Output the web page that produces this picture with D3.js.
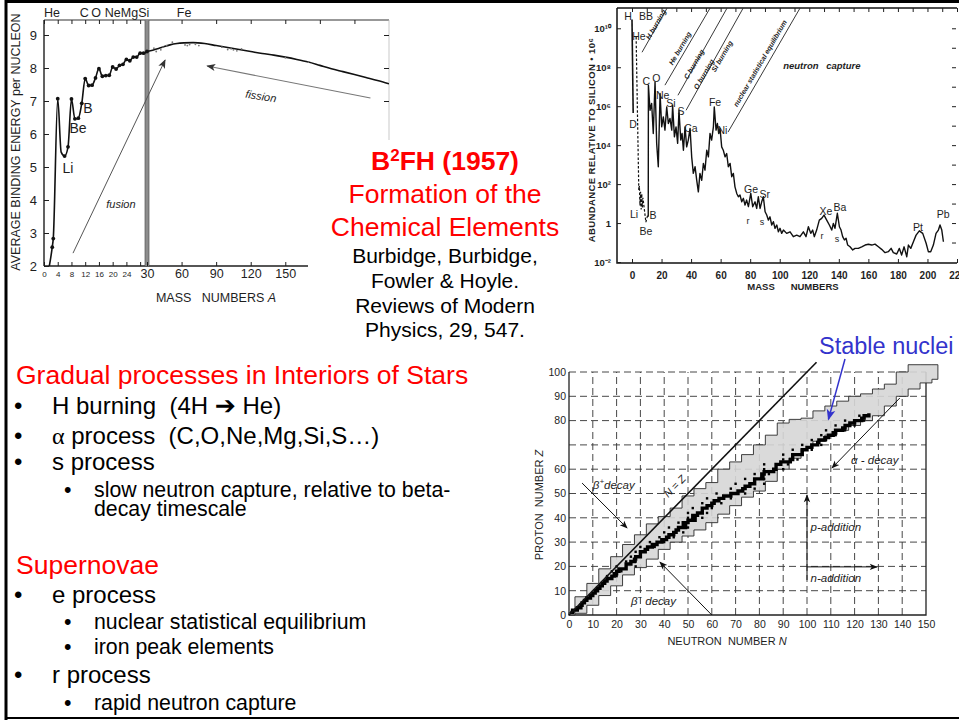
<!DOCTYPE html>
<html>
<head>
<meta charset="utf-8">
<title>B2FH (1957) – Formation of the Chemical Elements</title>
<script src="https://cdn.jsdelivr.net/npm/d3@7/dist/d3.min.js"></script>
<style>
  html, body { margin: 0; padding: 0; background: #fff; }
  svg { display: block; }
</style>
</head>
<body>
<svg id="slide" width="959" height="721"></svg>
<script>
// ---------------- Binding energy per nucleon (MeV) ----------------
const beMassLight  = [1.0, 2.4, 2.7, 4, 5, 6, 7, 8, 9, 10, 11, 12, 13, 14, 15, 16, 17, 18, 19, 20, 21, 22, 23, 24, 25, 26, 27, 28, 29, 30];
const beValueLight = [1.7, 2.57, 2.83, 7.07, 5.45, 5.33, 5.61, 7.06, 6.46, 6.48, 6.93, 7.68, 7.47, 7.48, 7.70, 7.98, 7.75, 7.77, 7.78, 8.03, 7.97, 8.08, 8.11, 8.26, 8.22, 8.33, 8.33, 8.45, 8.45, 8.50];
const beMassHeavy  = [30, 35, 40, 45, 50, 56, 62, 70, 80, 90, 100, 110, 120, 130, 140, 150, 160, 170, 180, 190, 200, 210, 220, 230, 240];
const beValueHeavy = [8.50, 8.54, 8.59, 8.65, 8.70, 8.74, 8.76, 8.77, 8.74, 8.68, 8.62, 8.56, 8.50, 8.44, 8.39, 8.33, 8.26, 8.18, 8.08, 7.98, 7.89, 7.80, 7.71, 7.62, 7.52];
const beScatterMass  = [36, 38, 42, 44, 47, 52, 63, 65, 67, 72, 75, 95, 100, 103, 105, 108, 112, 150, 170];
const beScatterValue = [8.60, 8.50, 8.55, 8.63, 8.68, 8.78, 8.70, 8.68, 8.71, 8.72, 8.68, 8.63, 8.56, 8.58, 8.55, 8.52, 8.58, 8.31, 8.18];
const beYTicks = [2, 3, 4, 5, 6, 7, 8, 9];
const beXTicksLight = [0, 4, 8, 12, 16, 20, 24, 28];
const beXTicksHeavy = [30, 60, 90, 120, 150];
const beCurveLabels = [["Li", 7.0, 4.97], ["Be", 9.9, 6.18], ["B", 12.8, 6.79]];
const beTopLabels = [["He", 2.3], ["C", 11.7], ["O", 15.2], ["NeMgSi", 24.2], ["Fe", 62.2]];

// ---------------- Solar-system abundances (log10, Si = 10^6) ----------------
const abHydrogenMass = [0, 0.8];
const abHydrogenLog  = [10.45, 5.65];
const abLightMass = [2.8, 4.6, 5.0, 5.4, 5.8, 6.2, 6.6, 7.0, 7.4, 9.4, 10.6];
const abLightLog  = [9.55, 1.7, 1.9, 0.9, 1.6, 0.7, 1.5, 0.8, 1.3, 0.05, 0.4];
const abMass = [11.0,11.1,12.2,13.3,14.4,15.6,16.7,17.8,19.0,20.1,21.2,22.3,23.5,24.6,25.7,26.9,27.5,28.7,29.8,30.9,
  31.8,33.0,33.9,34.8,35.9,37.0,38.1,39.3,40.4,41.5,42.7,43.8,44.9,46.0,47.2,48.3,49.4,50.6,51.7,52.8,
  53.9,55.1,55.7,56.9,57.8,58.7,59.6,60.7,61.8,63.0,64.1,65.2,66.4,67.5,68.6,69.7,70.9,72.0,73.1,74.3,
  75.4,76.5,77.6,78.8,80.4,81.7,83.3,84.4,85.5,86.7,87.8,88.9,90.1,91.2,92.3,93.4,94.6,95.7,96.8,98.0,
  99.1,100.2,101.3,102.5,104.7,107.0,109.2,111.5,113.7,116.0,117.8,119.4,121.0,122.3,123.4,125.0,126.8,128.4,130.0,131.8,
  133.6,135.2,136.3,137.4,139.0,140.4,141.5,142.6,143.8,144.9,146.0,147.6,149.4,151.0,153.2,155.5,157.8,160.0,162.3,164.5,
  166.8,169.0,171.3,173.5,175.4,176.9,179.2,181.0,182.5,184.2,186.0,187.1,188.7,190.5,192.3,194.5,196.8,199.1,200.6,202.2,
  204.0,205.8,207.4,208.5,209.7,210.8];
const abLog10 = [0.32,7.08,5.79,6.14,4.60,7.25,4.09,2.89,6.65,4.94,5.45,4.77,5.96,5.11,5.37,4.77,6.05,4.43,4.94,4.09,
  5.79,4.26,4.60,3.74,4.94,3.91,4.26,4.86,3.40,2.55,2.89,2.20,1.60,2.55,2.20,3.06,2.72,3.74,3.40,4.60,
  4.26,4.94,5.96,4.77,5.11,4.60,4.86,3.91,3.74,3.40,3.57,2.89,3.06,2.38,2.55,1.86,1.52,1.35,1.44,1.09,
  1.27,0.92,1.18,0.84,1.52,0.84,1.09,0.75,1.35,0.75,1.09,1.35,0.58,0.41,0.15,0.32,-0.10,0.07,-0.27,-0.10,
  -0.45,-0.27,-0.53,-0.36,-0.53,-0.45,-0.70,-0.62,-0.70,-0.45,-0.70,-0.19,-0.53,-0.36,-0.70,-0.36,0.15,0.24,0.41,0.15,
  -0.10,-0.36,-0.02,-0.27,0.50,-0.19,-0.36,-0.70,-0.87,-0.78,-1.13,-1.22,-1.38,-1.30,-1.30,-1.22,-1.13,-1.09,-1.13,-1.08,
  -1.22,-1.35,-1.52,-1.47,-1.30,-1.52,-1.59,-1.30,-1.64,-1.22,-1.73,-1.13,-1.30,-0.96,-0.62,-0.40,-0.53,-1.04,-1.47,-1.47,
  -1.13,-0.53,-0.36,-0.10,-0.36,-0.96];
const abYTickExps = [-2, 0, 2, 4, 6, 8, 10];
const abXTicks = [0, 20, 40, 60, 80, 100, 120, 140, 160, 180, 200, 220];
const abElementLabels = [["H",-2.7,10.6],["BB",9.5,10.6],["He",4.7,9.6],["D",0.7,5.08],["Li",1.4,0.46],["B",14.2,0.41],
  ["Be",9.5,-0.41],["C",9.6,7.3],["O",16.4,7.45],["Ne",20.8,6.55],["Si",26.4,6.15],["S",33.2,5.74],["Ca",39.9,4.87],
  ["Fe",56.2,6.2],["Ni",61.2,4.77],["Ge",80.6,1.75],["r",78.5,0.1],["s",88,0.05],["Sr",89.8,1.5],["Xe",131.3,0.62],
  ["r",128.6,-0.67],["s",138.8,-0.82],["Ba",140.8,0.8],["Pt",193.6,-0.2],["Pb",210.6,0.45]];
// burning-stage boundaries: [A0, log0, A1, log1]
const abStageLines = [[6.8,8.77,23.7,11.03],[22.3,7.08,52.8,11.03],[31.1,6.56,64.3,11.03],[36.6,5.79,75.2,11.03],[65,4.67,113.7,11.03]];
const abStageLabels = [["H burning",16.2,10.2],["He burning",32.5,8.97],["C burning",42,8.15],["O burning",48.7,7.64],
  ["Si burning",60.9,8.56],["nuclear statistical equilibrium",86.7,8.2]];

// ---------------- Chart of nuclides ----------------
const bandN     = [0,5,10,15,20,25,30,35,40,45,50,55,60,65,70,75,80,85,90,95,100,105,110,115,120,125,130,135,140,145,150,155];
const bandZHigh = [1,7.5,13,19,24,29,33,37.5,40.5,44,49,52,54.5,60,63,66,70,74,79,80.5,81,84,86,88,90,91,93,95,100,103,103,103];
const bandZLow  = [0,0.7,4,8,12,16.5,19.5,23,27,30,32.5,35,38,41.5,45,48.5,51,55,60,64.5,68.5,71.5,74,76,78,80,82,86,90,93,95.5,97];
// stable isotopes, Z = 1..83: lightest and heaviest stable N
const stableNMin = [0,1,3,5,5,6,7,8,10,10,12,12,14,14,16,16,18,18,20,20,24,24,27,26,30,28,32,30,34,34,38,38,42,40,44,42,48,46,50,50,
  52,50,null,52,58,56,60,58,64,62,70,68,74,70,78,74,81,78,82,82,null,82,88,90,94,90,98,94,100,98,104,102,107,106,110,108,114,112,118,116,122,122,126];
const stableNMax = [1,2,4,5,6,7,8,10,10,12,12,14,14,16,16,20,20,22,22,28,24,28,28,30,30,32,32,36,36,40,40,44,42,48,46,50,50,50,50,56,
  52,58,null,60,58,64,62,68,66,74,72,78,74,82,78,82,82,84,82,90,null,92,90,96,94,98,98,102,100,106,105,108,108,112,112,116,116,120,118,124,124,126,126];
const nzXTicks = [0,10,20,30,40,50,60,70,80,90,100,110,120,130,140,150];
const nzYTicks = [0,10,20,30,40,50,60,80,90,100];
const nzGrid = [10,20,30,40,50,60,70,80,90,100,110,120,130,140];

// ---------------- helpers ----------------
const SANS = '"Liberation Sans", Arial, Helvetica, sans-serif';
const SERIF = '"Liberation Serif", "Times New Roman", serif';
const INK = "#1e1e1e";
const svg = d3.select("#slide");
const defs = svg.append("defs");

function marker(id, color, w, h) {
  defs.append("marker").attr("id", id)
    .attr("viewBox", "0 0 10 10").attr("refX", 9).attr("refY", 5)
    .attr("markerUnits", "userSpaceOnUse")
    .attr("markerWidth", w).attr("markerHeight", h)
    .attr("orient", "auto")
    .append("path").attr("d", "M0,1 L10,5 L0,9 L2.5,5 Z").attr("fill", color);
}
marker("arrGray", "#333", 10, 9);
marker("arrBlack", "#111", 9, 8);
marker("arrBlue", "#3333cc", 12, 11);

function styleAxis(g, size, weight) {
  g.attr("font-family", SANS).attr("font-size", size).attr("font-weight", weight || "normal");
  g.selectAll("text").attr("fill", INK);
  g.selectAll("line").attr("stroke", INK);
  g.select(".domain").remove();
}

// ================= Panel 1: binding energy =================
const be = svg.append("g");
const beX = d3.scaleLinear().domain([0, 30, 240]).range([44, 147, 389]);
const beY = d3.scaleLinear().domain([2, 9]).range([266, 35]);
const beTop = 20;

defs.append("clipPath").attr("id", "beClip").append("rect")
  .attr("x", beX(0)).attr("y", beTop).attr("width", beX(240) - beX(0)).attr("height", beY(2) - beTop);

be.append("line").attr("x1", beX(0)).attr("x2", beX(240)).attr("y1", beTop).attr("y2", beTop)
  .attr("stroke", "#333").attr("stroke-width", 1.1);
be.append("line").attr("x1", beX(0)).attr("x2", beX(0)).attr("y1", beTop).attr("y2", beY(2))
  .attr("stroke", INK).attr("stroke-width", 1.4);
be.append("line").attr("x1", beX(0)).attr("x2", 308).attr("y1", beY(2)).attr("y2", beY(2))
  .attr("stroke", INK).attr("stroke-width", 1.4);
be.append("line").attr("x1", beX(240)).attr("x2", beX(240)).attr("y1", beTop).attr("y2", 140)
  .attr("stroke", "#bbb").attr("stroke-width", 0.8);

// A = 30 scale break
be.append("rect").attr("x", beX(30) - 2).attr("y", beTop).attr("width", 4).attr("height", beY(2) - beTop)
  .attr("fill", "#8c8c8c");
[-2, 2].forEach(o => be.append("line").attr("x1", beX(30) + o).attr("x2", beX(30) + o)
  .attr("y1", beTop).attr("y2", beY(2)).attr("stroke", "#555").attr("stroke-width", 0.7));

const beYAxis = be.append("g").attr("transform", `translate(${beX(0)},0)`)
  .call(d3.axisLeft(beY).tickValues(beYTicks).tickSize(-5).tickPadding(7).tickFormat(d3.format("d")));
styleAxis(beYAxis, 13);
const beXAxisLight = be.append("g").attr("transform", `translate(0,${beY(2)})`)
  .call(d3.axisBottom(beX).tickValues(beXTicksLight).tickSize(-4).tickPadding(5).tickFormat(d => d === 28 ? "" : d));
styleAxis(beXAxisLight, 8);
const beXAxisHeavy = be.append("g").attr("transform", `translate(0,${beY(2)})`)
  .call(d3.axisBottom(beX).tickValues(beXTicksHeavy).tickSize(-4).tickPadding(3));
styleAxis(beXAxisHeavy, 12.5);
const beTopAxis = be.append("g").attr("transform", `translate(0,${beTop})`)
  .call(d3.axisTop(beX).tickValues(beXTicksLight.concat([60, 90, 120, 150, 180, 210])).tickSize(-4).tickFormat(""));
styleAxis(beTopAxis, 8);
const beRightAxis = be.append("g").attr("transform", `translate(${beX(240)},0)`)
  .call(d3.axisRight(beY).tickValues([7, 8, 9]).tickSize(-5).tickFormat(""));
styleAxis(beRightAxis, 8);

const bePlot = be.append("g").attr("clip-path", "url(#beClip)");
const beLine = d3.line().x(d => beX(d[0])).y(d => beY(d[1])).curve(d3.curveMonotoneX);
const beLight = beMassLight.map((a, i) => [a, beValueLight[i]]);
const beHeavy = beMassHeavy.map((a, i) => [a, beValueHeavy[i]]);
bePlot.append("path").attr("d", beLine(beLight)).attr("fill", "none").attr("stroke", "#111").attr("stroke-width", 1.6);
bePlot.append("path").attr("d", beLine(beHeavy)).attr("fill", "none").attr("stroke", "#111").attr("stroke-width", 1.6);
bePlot.selectAll("circle.pt").data(beLight.filter((d, i) => i !== 0 && i !== 4)).join("circle")
  .attr("cx", d => beX(d[0])).attr("cy", d => beY(d[1])).attr("r", 1.9).attr("fill", "#111");
bePlot.selectAll("circle.sc").data(beScatterMass.map((a, i) => [a, beScatterValue[i]])).join("circle")
  .attr("cx", d => beX(d[0])).attr("cy", d => beY(d[1])).attr("r", 0.9).attr("fill", "#777");

be.selectAll("text.cl").data(beCurveLabels).join("text")
  .attr("x", d => beX(d[1])).attr("y", d => beY(d[2]) + 5).attr("text-anchor", "middle")
  .attr("font-family", SANS).attr("font-size", 14).attr("fill", INK).text(d => d[0]);
be.selectAll("text.tl").data(beTopLabels).join("text")
  .attr("x", d => beX(d[1])).attr("y", 17).attr("text-anchor", "middle")
  .attr("font-family", SANS).attr("font-size", 12.5).attr("fill", INK).text(d => d[0]);

be.append("text").attr("transform", "translate(20,142) rotate(-90)").attr("text-anchor", "middle")
  .attr("font-family", SANS).attr("font-size", 12.5).attr("fill", INK)
  .text("AVERAGE  BINDING ENERGY per NUCLEON");
const beXLabel = be.append("text").attr("x", 216).attr("y", 302).attr("text-anchor", "middle")
  .attr("font-family", SANS).attr("font-size", 12.5).attr("fill", INK).style("white-space", "pre");
beXLabel.append("tspan").text("MASS   NUMBERS ");
beXLabel.append("tspan").attr("font-style", "italic").text("A");

// fusion / fission arrows
be.append("line").attr("x1", beX(8.45)).attr("y1", beY(2.39)).attr("x2", beX(45.7)).attr("y2", beY(8.24))
  .attr("stroke", "#555").attr("stroke-width", 1).attr("marker-end", "url(#arrGray)");
be.append("line").attr("x1", beX(223.9)).attr("y1", beY(7.09)).attr("x2", beX(82.2)).attr("y2", beY(8.06))
  .attr("stroke", "#777").attr("stroke-width", 1.1).attr("marker-end", "url(#arrGray)");
be.append("text").attr("x", beX(22.4)).attr("y", beY(3.76)).attr("text-anchor", "middle")
  .attr("font-family", SANS).attr("font-size", 11).attr("font-style", "italic").attr("fill", INK).text("fusion");
be.append("text").attr("transform", `translate(${beX(128.3)},${beY(7.03)}) rotate(9)`).attr("text-anchor", "middle")
  .attr("font-family", SANS).attr("font-size", 11).attr("font-style", "italic").attr("fill", INK).text("fission");

// title block sits on a white box over the lower right of the figure
svg.append("rect").attr("x", 308).attr("y", 140).attr("width", 252).attr("height", 210).attr("fill", "#fff");

// ================= Panel 2: abundances =================
const ab = svg.append("g");
const abX = d3.scaleLinear().domain([0, 220]).range([632, 957]);
const abY = d3.scaleLog().domain([1e-2, 1.1e11]).range([262, 8]);
const abLeft = 617, abRight = 957, abTopY = 8, abBottomY = 263;

ab.append("path").attr("d", `M${abLeft},${abTopY} L${abLeft},${abBottomY} L${abRight},${abBottomY}`)
  .attr("fill", "none").attr("stroke", "#111").attr("stroke-width", 1.5);
ab.append("line").attr("x1", abLeft).attr("x2", abRight).attr("y1", abTopY).attr("y2", abTopY)
  .attr("stroke", "#111").attr("stroke-width", 1.3);

const supMap = { "0": "⁰", "1": "¹", "2": "²", "3": "³", "4": "⁴", "5": "⁵", "6": "⁶", "7": "⁷", "8": "⁸", "9": "⁹", "-": "⁻" };
const powLabel = e => e === 0 ? "1" : "10" + String(e).split("").map(c => supMap[c]).join("");

const abYAxis = ab.append("g").attr("transform", `translate(${abLeft},0)`)
  .call(d3.axisLeft(abY).tickValues(abYTickExps.map(e => Math.pow(10, e))).tickSize(-4).tickPadding(6)
    .tickFormat(v => powLabel(Math.round(Math.log10(v)))));
styleAxis(abYAxis, 9.5, "bold");
const abXAxis = ab.append("g").attr("transform", `translate(0,${abBottomY})`)
  .call(d3.axisBottom(abX).tickValues(abXTicks).tickSize(-4).tickPadding(9));
styleAxis(abXAxis, 10, "bold");
const abTopAxis = ab.append("g").attr("transform", `translate(0,${abTopY})`)
  .call(d3.axisTop(abX).tickValues(d3.range(0, 221, 10)).tickSize(-4).tickFormat(""));
styleAxis(abTopAxis, 8);
const abRightAxis = ab.append("g").attr("transform", `translate(${abRight - 1},0)`)
  .call(d3.axisRight(abY).tickValues(d3.range(-1, 11).map(e => Math.pow(10, e))).tickSize(-4).tickFormat(""));
styleAxis(abRightAxis, 8);

ab.append("text").attr("transform", "translate(595,140) rotate(-90)").attr("text-anchor", "middle")
  .attr("font-family", SANS).attr("font-size", 9.5).attr("font-weight", "bold").attr("letter-spacing", 0.4)
  .attr("fill", INK).text("ABUNDANCE  RELATIVE  TO  SILICON • 10⁶");
ab.append("text").attr("x", 793).attr("y", 290).attr("text-anchor", "middle").style("white-space", "pre")
  .attr("font-family", SANS).attr("font-size", 9.5).attr("font-weight", "bold").attr("fill", INK)
  .text("MASS      NUMBERS");

const abLine = d3.line().x(d => abX(d[0])).y(d => abY(Math.pow(10, d[1])));
ab.append("path").attr("d", abLine(abHydrogenMass.map((a, i) => [a, abHydrogenLog[i]])))
  .attr("fill", "none").attr("stroke", "#111").attr("stroke-width", 1.6);
ab.append("path").attr("d", abLine(abLightMass.map((a, i) => [a, abLightLog[i]])))
  .attr("fill", "none").attr("stroke", "#111").attr("stroke-width", 1.2).attr("stroke-dasharray", "2.5,1.8");
ab.append("path").attr("d", abLine(abMass.map((a, i) => [a, abLog10[i]])))
  .attr("fill", "none").attr("stroke", "#111").attr("stroke-width", 1.4).attr("stroke-linejoin", "round");

ab.selectAll("line.stage").data(abStageLines).join("line")
  .attr("x1", d => abX(d[0])).attr("y1", d => abY(Math.pow(10, d[1])))
  .attr("x2", d => abX(d[2])).attr("y2", d => abY(Math.pow(10, d[3])))
  .attr("stroke", "#222").attr("stroke-width", 0.9);
const stageAngle = (() => {
  const d = abStageLines[1];
  const dx = abX(d[2]) - abX(d[0]), dy = abY(Math.pow(10, d[3])) - abY(Math.pow(10, d[1]));
  return Math.atan2(dy, dx) * 180 / Math.PI;
})();
ab.selectAll("text.stage").data(abStageLabels).join("text")
  .attr("transform", d => `translate(${abX(d[1])},${abY(Math.pow(10, d[2]))}) rotate(${stageAngle})`)
  .attr("text-anchor", "middle").attr("dy", "0.35em")
  .attr("font-family", SANS).attr("font-size", 7).attr("font-weight", "bold").attr("font-style", "italic")
  .attr("fill", INK).text(d => d[0]);
ab.append("text").attr("x", abX(128.5)).attr("y", abY(Math.pow(10, 7.9))).attr("text-anchor", "middle")
  .attr("font-family", SANS).attr("font-size", 9.5).attr("font-weight", "bold").attr("font-style", "italic")
  .attr("fill", INK).attr("word-spacing", 5).text("neutron capture");

ab.selectAll("text.el").data(abElementLabels).join("text")
  .attr("x", d => abX(d[1])).attr("y", d => abY(Math.pow(10, d[2]))).attr("dy", "0.36em")
  .attr("text-anchor", "middle").attr("font-family", SANS)
  .attr("font-size", d => (d[0] === "r" || d[0] === "s") ? 9 : 10.5)
  .attr("fill", INK).text(d => d[0]);

// ================= Panel 3: chart of nuclides =================
const nz = svg.append("g");
const nzX = d3.scaleLinear().domain([0, 150]).range([569, 926]);
const nzY = d3.scaleLinear().domain([0, 100]).range([615, 372]);

nz.selectAll("line.gv").data(nzGrid).join("line")
  .attr("x1", d => nzX(d)).attr("x2", d => nzX(d)).attr("y1", nzY(0)).attr("y2", nzY(100))
  .attr("stroke", "#333").attr("stroke-width", 0.9).attr("stroke-dasharray", "7,4");
nz.selectAll("line.gh").data(nzGrid.filter(d => d <= 100)).join("line")
  .attr("x1", nzX(0)).attr("x2", nzX(150)).attr("y1", d => nzY(d)).attr("y2", d => nzY(d))
  .attr("stroke", "#333").attr("stroke-width", 0.9).attr("stroke-dasharray", "7,4");
nz.append("path").attr("d", `M${nzX(0)},${nzY(100)} L${nzX(0)},${nzY(0)} L${nzX(150)},${nzY(0)} L${nzX(150)},${nzY(100)}`)
  .attr("fill", "none").attr("stroke", "#222").attr("stroke-width", 1.3);

const band = d3.area().x((d, i) => nzX(bandN[i])).y0((d, i) => nzY(bandZLow[i])).y1((d, i) => nzY(bandZHigh[i]))
  .curve(d3.curveStep);
nz.append("path").attr("d", band(bandN)).attr("fill", "#d6d6d6").attr("fill-opacity", 0.9)
  .attr("stroke", "#2a2a2a").attr("stroke-width", 0.9);

// valley of stability: staircase through the middle of each element's stable isotopes,
// with the lightest and heaviest stable isotopes marked as separate cells
const stableRows = [];
stableNMin.forEach((nmin, i) => {
  if (nmin === null) return;
  stableRows.push({ z: i + 1, nmin: nmin, nmax: stableNMax[i], mid: (nmin + stableNMax[i]) / 2 });
});
const cw = nzX(1) - nzX(0), ch = nzY(0) - nzY(1);
const valley = d3.line().x(d => nzX(d.mid)).y(d => nzY(d.z)).curve(d3.curveStepAfter);
nz.append("path").attr("d", valley(stableRows)).attr("fill", "none").attr("stroke", "#000")
  .attr("stroke-width", 3.4).attr("stroke-linejoin", "miter");
const edgeCells = [];
stableRows.forEach(r => {
  if (r.nmax - r.nmin >= 3) { edgeCells.push([r.nmin, r.z]); edgeCells.push([r.nmax, r.z]); }
});
nz.selectAll("rect.st").data(edgeCells).join("rect")
  .attr("x", d => nzX(d[0]) - cw / 2).attr("y", d => nzY(d[1]) - ch / 2)
  .attr("width", cw).attr("height", ch).attr("fill", "#000");

nz.append("line").attr("x1", nzX(0)).attr("y1", nzY(0)).attr("x2", nzX(104)).attr("y2", nzY(104))
  .attr("stroke", "#111").attr("stroke-width", 1.6);
const nzAngle = Math.atan2(nzY(1) - nzY(0), nzX(1) - nzX(0)) * 180 / Math.PI;
nz.append("text").attr("transform", `translate(${nzX(45.5)},${nzY(52)}) rotate(${nzAngle})`)
  .attr("text-anchor", "middle").attr("font-family", SANS).attr("font-size", 10.5).attr("font-style", "italic")
  .attr("fill", INK).text("N = Z");

const nzXAxis = nz.append("g").attr("transform", `translate(0,${nzY(0)})`)
  .call(d3.axisBottom(nzX).tickValues(nzXTicks).tickSize(0).tickPadding(6));
styleAxis(nzXAxis, 10.5);
const nzYAxis = nz.append("g").attr("transform", `translate(${nzX(0)},0)`)
  .call(d3.axisLeft(nzY).tickValues(nzYTicks).tickSize(0).tickPadding(3));
styleAxis(nzYAxis, 10.5);
const nzXLabel = nz.append("text").attr("x", 727).attr("y", 645).attr("text-anchor", "middle")
  .attr("font-family", SANS).attr("font-size", 11).attr("fill", INK).style("white-space", "pre");
nzXLabel.append("tspan").text("NEUTRON  NUMBER ");
nzXLabel.append("tspan").attr("font-style", "italic").text("N");
const nzYLabel = nz.append("text").attr("transform", "translate(543,505) rotate(-90)").attr("text-anchor", "middle")
  .attr("font-family", SANS).attr("font-size", 11).attr("fill", INK).style("white-space", "pre");
nzYLabel.append("tspan").text("PROTON  NUMBER ");
nzYLabel.append("tspan").attr("font-style", "italic").text("Z");

// process arrows: [N0, Z0, N1, Z1]
const nzArrows = [[5.5, 54.3, 24.4, 35.8], [60, 0, 38.2, 21.8], [139, 89.3, 110.5, 60.5], [100, 19.8, 100, 49.4], [100, 19.8, 129.4, 19.8]];
nz.selectAll("line.ar").data(nzArrows).join("line")
  .attr("x1", d => nzX(d[0])).attr("y1", d => nzY(d[1])).attr("x2", d => nzX(d[2])).attr("y2", d => nzY(d[3]))
  .attr("stroke", "#111").attr("stroke-width", 1).attr("marker-end", "url(#arrBlack)");
nz.append("line").attr("x1", nzX(100)).attr("x2", nzX(100)).attr("y1", nzY(19.8)).attr("y2", nzY(14.4))
  .attr("stroke", "#111").attr("stroke-width", 1);

// parts: [text, superscript?]
function italicLabel(x, y, parts) {
  const t = nz.append("text").attr("x", x).attr("y", y)
    .attr("font-family", SANS).attr("font-size", 11.5).attr("font-style", "italic").attr("fill", INK)
    .style("white-space", "pre");
  let raised = false;
  parts.forEach(([s, sup]) => {
    const sp = t.append("tspan").text(s);
    if (sup && !raised) { sp.attr("font-size", 8).attr("dy", -5); raised = true; }
    else if (!sup && raised) { sp.attr("dy", 5); raised = false; }
  });
  return t;
}
italicLabel(nzX(10), nzY(52), [["β", false], ["+", true], ["decay", false]]);
italicLabel(nzX(26), nzY(4), [["β", false], ["−", true], [" decay", false]]);
italicLabel(nzX(118.5), nzY(62), [["α - decay", false]]);
italicLabel(nzX(101.5), nzY(34.5), [["p-addition", false]]);
italicLabel(nzX(101.5), nzY(13.5), [["n-addition", false]]);

// ================= Slide text =================
const txt = svg.append("g").attr("font-family", SANS);
txt.append("text").attr("x", 819).attr("y", 354).attr("font-size", 23.5).attr("fill", "#3333cc").text("Stable nuclei");
txt.append("line").attr("x1", 845).attr("y1", 359).attr("x2", nzX(109)).attr("y2", nzY(80.5))
  .attr("stroke", "#3333cc").attr("stroke-width", 1.5).attr("marker-end", "url(#arrBlue)");

const title = txt.append("text").attr("x", 445).attr("y", 170).attr("text-anchor", "middle")
  .attr("font-size", 26.5).attr("font-weight", "bold").attr("fill", "#ff0000");
title.append("tspan").text("B");
title.append("tspan").attr("font-size", 17).attr("dy", -9).text("2");
title.append("tspan").attr("dy", 9).text("FH (1957)");
[["Formation of the", 203], ["Chemical Elements", 236]].forEach(d =>
  txt.append("text").attr("x", 445).attr("y", d[1]).attr("text-anchor", "middle")
    .attr("font-size", 26.5).attr("fill", "#ff0000").text(d[0]));
[["Burbidge, Burbidge,", 263], ["Fowler & Hoyle.", 288], ["Reviews of Modern", 313], ["Physics, 29, 547.", 337]].forEach(d =>
  txt.append("text").attr("x", 445).attr("y", d[1]).attr("text-anchor", "middle")
    .attr("font-size", 21).attr("fill", "#000").text(d[0]));

// bullet list: [level, text, baseline]
const bulletLines = [
  [0, "Gradual processes in Interiors of Stars", 384],
  [1, "H burning  (4H ➔ He)", 414],
  [1, "α process  (C,O,Ne,Mg,Si,S…)", 444],
  [1, "s process", 470],
  [2, "slow neutron capture, relative to beta-", 497],
  [3, "decay timescale", 516],
  [0, "Supernovae", 574],
  [1, "e process", 603],
  [2, "nuclear statistical equilibrium", 629],
  [2, "iron peak elements", 654],
  [1, "r process", 683],
  [2, "rapid neutron capture", 710]
];
bulletLines.forEach(([lvl, s, y]) => {
  if (lvl === 0) {
    txt.append("text").attr("x", 16).attr("y", y).attr("font-size", 26.5).attr("fill", "#ff0000").text(s);
    return;
  }
  const size = lvl === 1 ? 24 : 21.3;
  const bx = lvl === 1 ? 14 : 64, tx = lvl === 1 ? 52 : 94;
  if (lvl !== 3) txt.append("text").attr("x", bx).attr("y", y).attr("font-size", size).attr("fill", "#000").text("•");
  const t = txt.append("text").attr("x", tx).attr("y", y).attr("font-size", size).attr("fill", "#000").style("white-space", "pre");
  if (s.startsWith("α")) {
    t.append("tspan").attr("font-family", SERIF).text("α");
    t.append("tspan").text(s.slice(1));
  } else if (s.includes("➔")) {
    const [a, b] = s.split("➔");
    t.append("tspan").text(a);
    t.append("tspan").attr("font-family", '"DejaVu Sans", sans-serif').attr("font-weight", "bold").attr("font-size", size * 1.05).text("➔");
    t.append("tspan").attr("font-size", size).text(b);
  } else t.text(s);
});

// slide frame
svg.append("path").attr("d", "M6,720 L6,1.5 L959,1.5").attr("fill", "none").attr("stroke", "#000").attr("stroke-width", 3);
svg.append("line").attr("x1", 6).attr("x2", 959).attr("y1", 718).attr("y2", 718).attr("stroke", "#000").attr("stroke-width", 2);
</script>
</body>
</html>
